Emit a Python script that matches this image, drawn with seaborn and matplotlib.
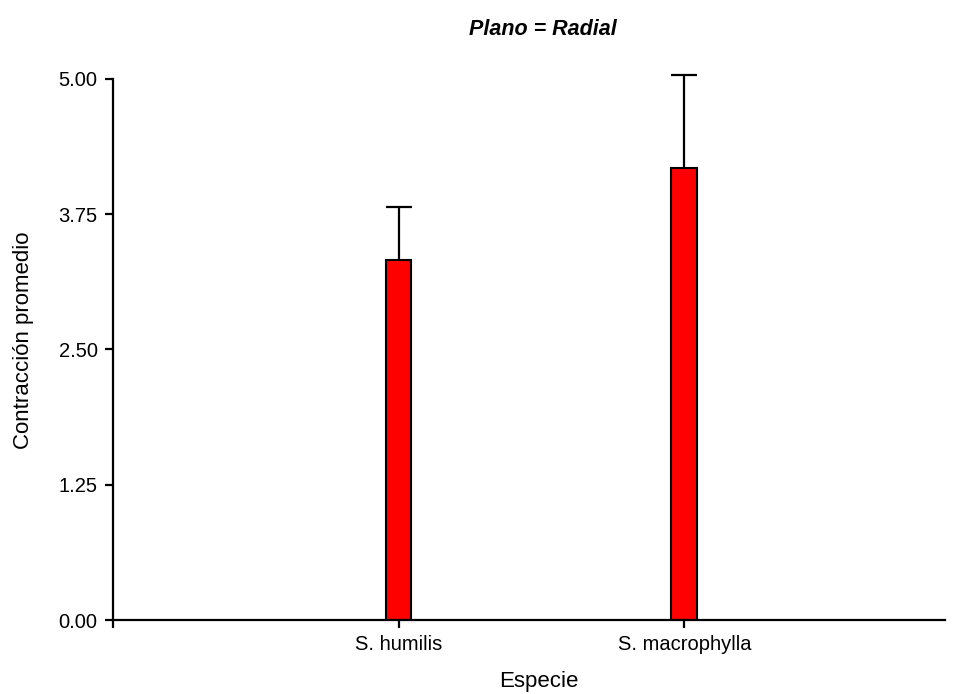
import matplotlib
matplotlib.use("Agg")
import matplotlib.pyplot as plt
import seaborn as sns
import pandas as pd

especies = ["S. humilis", "S. macrophylla"]
medias = [3.33, 4.18]
errores = [0.49, 0.86]
yticks = [0.00, 1.25, 2.50, 3.75, 5.00]

sns.set_style("ticks")
plt.rcParams["font.family"] = ["Liberation Sans", "DejaVu Sans"]

df = pd.DataFrame({"Especie": especies, "Contraccion": medias})

fig = plt.figure(figsize=(9.61, 6.94), dpi=100)
ax = fig.add_axes([0.1176, 0.1066, 0.8658, 0.7874])

sns.barplot(data=df, x="Especie", y="Contraccion", color="#ff0000",
            edgecolor="black", linewidth=1.5, width=0.09, errorbar=None,
            saturation=1, ax=ax)
xs = list(range(len(especies)))
eb = ax.errorbar(xs, medias, yerr=[[0] * len(errores), errores], fmt="none",
                 ecolor="black", elinewidth=1.6, capsize=9.7, capthick=1.6,
                 clip_on=False, zorder=1)
# keep only the upper caps
eb[1][0].set_visible(False)

ax.set_yticks(yticks)
ax.set_yticklabels([f"{v:.2f}" for v in yticks])
ax.set_xticks(xs)
ax.set_xticklabels(especies)
ax.set_xticks([-1], minor=True)
ax.set_xlim(-1, 1.913)
ax.set_ylim(0, 5.05)

for s in ["top", "right"]:
    ax.spines[s].set_visible(False)
for s in ["left", "bottom"]:
    ax.spines[s].set_linewidth(1.6)
    ax.spines[s].set_color("black")
ax.spines["left"].set_bounds(0, 5)
ax.tick_params(axis="both", which="both", width=1.6, length=6, color="black",
               labelsize=14.5, labelcolor="black", pad=5)

ax.set_xlabel("Especie", fontsize=16, color="black")
ax.set_ylabel("Contracción promedio", fontsize=16, color="black")
ax.xaxis.set_label_coords(0.512, -0.093)
ax.yaxis.set_label_coords(-0.095, 0.512)
fig.text(0.565, 0.958, "Plano = Radial", fontsize=15.5, fontweight="bold",
         fontstyle="italic", ha="center", va="center", color="black")

fig.savefig("out.png", dpi=100)
